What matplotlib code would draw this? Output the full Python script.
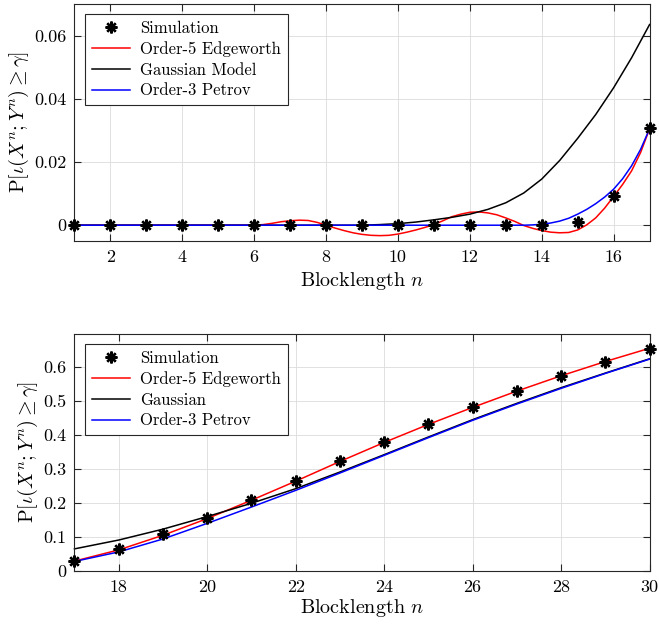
import numpy as np
import matplotlib
matplotlib.use("Agg")
import matplotlib.pyplot as plt

plt.rcParams['font.family'] = 'serif'
plt.rcParams['font.serif'] = ['cmr10']
plt.rcParams['mathtext.fontset'] = 'cm'
plt.rcParams['axes.unicode_minus'] = False
plt.rcParams['axes.formatter.use_mathtext'] = True

# ---------------- top panel data ----------------
n_sim_top = list(range(1, 18))
sim_top = [0, 0, 0, 0, 0, 0, 0, 0, 0, 0, 0, 0, 0, 0, 0.0011, 0.0094, 0.0308]

n_q = np.arange(1, 17.001, 0.25)   # quarter-step abscissa for read curves
edgeworth_top = [0.0] * 21 + [
    0.0002, 0.0006, 0.0011, 0.0014, 0.0016, 0.0015, 0.0009, 0.0000,   # 6.25 .. 8.0
    -0.0009, -0.0017, -0.0024, -0.0029, -0.0032, -0.0033, -0.0032, -0.0028,  # 8.25 .. 10.0
    -0.0022, -0.0015, -0.0007, 0.0002, 0.0014, 0.0027, 0.0035, 0.0041,  # 10.25 .. 12.0
    0.0042, 0.0039, 0.0033, 0.0023, 0.0012, -0.0001, -0.0010, -0.0017,  # 12.25 .. 14.0
    -0.0022, -0.0024, -0.0023, -0.0015, 0.0001, 0.0023, 0.0054, 0.0091,  # 14.25 .. 16.0
    0.0129, 0.0172, 0.0230, 0.0305]                                     # 16.25 .. 17.0
petrov_top = [0.0] * 51 + [
    0.0001, 0.0003, 0.0007, 0.0013, 0.0022, 0.0035, 0.0050, 0.0068,     # 13.75 .. 15.5
    0.0089, 0.0114, 0.0147, 0.0188, 0.0240, 0.0305]                      # 15.75 .. 17.0

n_h = np.arange(1, 17.001, 0.5)    # half-step abscissa
gauss_top = [0.0] * 17 + [
    0.0002, 0.0005, 0.0010, 0.0017, 0.0025, 0.0035, 0.0050, 0.0071,     # 9.5 .. 13.0
    0.0102, 0.0146, 0.0205, 0.0275, 0.0350, 0.0435, 0.0530, 0.0635]     # 13.5 .. 17.0

# ---------------- bottom panel data ----------------
n_low = list(range(17, 31))
sim_low = [0.030, 0.064, 0.108, 0.157, 0.209, 0.265, 0.324, 0.378, 0.431,
           0.481, 0.530, 0.574, 0.616, 0.653]
edgeworth_low = [0.029, 0.062, 0.105, 0.154, 0.208, 0.264, 0.322, 0.378,
                 0.431, 0.481, 0.529, 0.574, 0.616, 0.655]
gauss_low = [0.065, 0.091, 0.123, 0.160, 0.199, 0.242, 0.291, 0.342, 0.394,
             0.445, 0.493, 0.539, 0.582, 0.624]
petrov_low = [0.028, 0.056, 0.094, 0.140, 0.188, 0.237, 0.288, 0.340, 0.392,
              0.443, 0.491, 0.537, 0.581, 0.623]

ylabel = r'$\mathrm{P}[\iota(X^n;Y^n)\geq\gamma]$'
xlabel = r'Blocklength $n$'

fig = plt.figure(figsize=(6.59, 6.26), dpi=100)
ax1 = fig.add_axes([0.1130, 0.615, 0.8727, 0.3786])
ax2 = fig.add_axes([0.1130, 0.0879, 0.8727, 0.3786])

star = (8, 2, 0)
spine_c = '#262626'


def style(ax):
    ax.grid(True, color='#dcdcdc', lw=0.6)
    ax.set_axisbelow(True)
    for s in ax.spines.values():
        s.set_color(spine_c)
        s.set_linewidth(0.8)
    ax.tick_params(direction='in', top=True, right=True, length=5,
                   width=0.8, color=spine_c, labelsize=13, pad=6)


# top
ax1.plot(n_sim_top, sim_top, ls='none', marker=star, ms=8.5, mew=1.7,
         color='k', label='Simulation', zorder=5)
ax1.plot(n_q, edgeworth_top, color='#ff0000', lw=1.1, label='Order-5 Edgeworth')
ax1.plot(n_h, gauss_top, color='k', lw=1.1, label='Gaussian Model')
ax1.plot(n_q, petrov_top, color='#0000ff', lw=1.1, label='Order-3 Petrov')
ax1.set_xlim(1, 17)
ax1.set_ylim(-0.005, 0.07)
ax1.set_xticks([2, 4, 6, 8, 10, 12, 14, 16])
ax1.set_xticklabels(['2', '4', '6', '8', '10', '12', '14', '16'])
ax1.set_yticks([0, 0.02, 0.04, 0.06])
ax1.set_yticklabels(['0', '0.02', '0.04', '0.06'])
style(ax1)
ax1.set_xlabel(xlabel, fontsize=14.5, labelpad=4)
ax1.set_ylabel(ylabel, fontsize=14.5, labelpad=2)

# bottom
ax2.plot(n_low, sim_low, ls='none', marker=star, ms=8.5, mew=1.7,
         color='k', label='Simulation', zorder=5)
ax2.plot(n_low, edgeworth_low, color='#ff0000', lw=1.1, label='Order-5 Edgeworth')
ax2.plot(n_low, gauss_low, color='k', lw=1.1, label='Gaussian')
ax2.plot(n_low, petrov_low, color='#0000ff', lw=1.1, label='Order-3 Petrov')
ax2.set_xlim(17, 30)
ax2.set_ylim(0, 0.697)
ax2.set_xticks([18, 20, 22, 24, 26, 28, 30])
ax2.set_xticklabels(['18', '20', '22', '24', '26', '28', '30'])
ax2.set_yticks([0, 0.1, 0.2, 0.3, 0.4, 0.5, 0.6])
ax2.set_yticklabels(['0', '0.1', '0.2', '0.3', '0.4', '0.5', '0.6'])
style(ax2)
ax2.set_xlabel(xlabel, fontsize=14.5, labelpad=2)
ax2.set_ylabel(ylabel, fontsize=14.5, labelpad=2)

for ax in (ax1, ax2):
    for ln in ax.lines:
        ln.set_clip_on(False)
    leg = ax.legend(loc='upper left', bbox_to_anchor=(0.019, 0.958),
                    borderaxespad=0, fontsize=12, fancybox=False,
                    edgecolor=spine_c, framealpha=1, handlelength=2.3,
                    labelspacing=0.32, borderpad=0.4, handletextpad=0.6)
    leg.get_frame().set_linewidth(0.8)

fig.savefig('out.png', dpi=100)
